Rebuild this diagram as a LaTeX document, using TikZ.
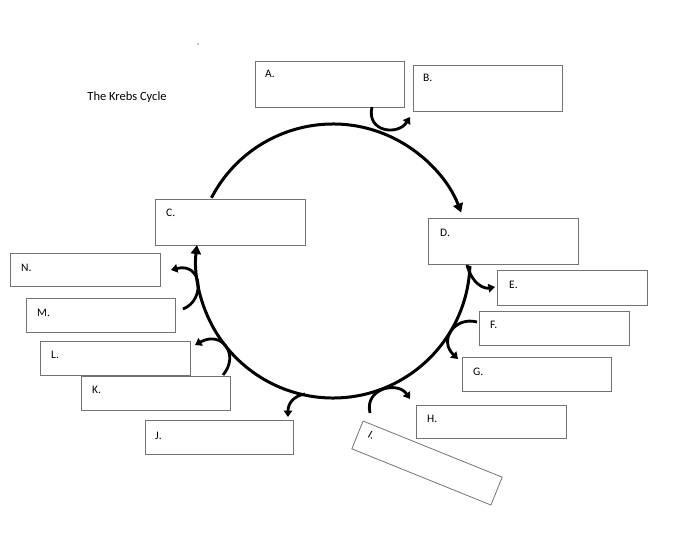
\documentclass[tikz,border=0pt]{standalone}
\usepackage{fontspec}
\setmainfont{Carlito}
\usetikzlibrary{arrows.meta,calc}
\begin{document}
\begin{tikzpicture}[x=1pt,y=-1pt,
  lbox/.style={draw=black!55,line width=0.8pt},
  lbl/.style={anchor=north west,font=\fontsize{11.5}{13}\selectfont,inner sep=0pt},
  cyc/.style={line width=3pt,-{Triangle[length=9pt,width=10pt]}},
  hook/.style={line width=2.8pt,-{Triangle[length=6.5pt,width=8.5pt]}}]
\useasboundingbox (0,0) rectangle (700,550);
\node[font=\fontsize{12.5}{14}\selectfont] (title) at (127,97) {The Krebs Cycle};
\fill (198,44) circle (0.6);
% boxes
\draw[lbox] (255,61) rectangle (404,107); \node[lbl] (A) at (265,70) {A.};
\draw[lbox] (413,65) rectangle (562,111); \node[lbl] (B) at (423,74) {B.};
\draw[lbox] (155,199) rectangle (305,245); \node[lbl] (C) at (166,209) {C.};
\draw[lbox] (428,218) rectangle (578,264); \node[lbl] (D) at (440,229) {D.};
\draw[lbox] (497,270) rectangle (647,305); \node[lbl] (E) at (509,281) {E.};
\draw[lbox] (479,311) rectangle (629,345); \node[lbl] (F) at (490,321) {F.};
\draw[lbox] (462,357) rectangle (611,391); \node[lbl] (G) at (473,368) {G.};
\draw[lbox] (416,405) rectangle (566,438); \node[lbl] (H) at (427,415) {H.};
\draw[lbox] (145,420) rectangle (293,454); \node[lbl] (J) at (155,432) {J.};
\draw[lbox] (81,376) rectangle (230,410); \node[lbl] (K) at (92,386) {K.};
\draw[lbox] (40,341) rectangle (190,375); \node[lbl] (L) at (51,351) {L.};
\draw[lbox] (26,298) rectangle (175,332); \node[lbl] (M) at (37,309) {M.};
\draw[lbox] (10,253) rectangle (160,286); \node[lbl] (N) at (21,264) {N.};
\begin{scope}[shift={(427,463)},rotate=-22]
\draw[lbox] (-75,-15) rectangle (75,15);
\node[lbl,rotate=-22] (I) at (-65,-9) {\itshape I.};
\end{scope}
% cycle
\coordinate (o) at (333,261);
\draw[cyc] ($(o)+(207.5:137)$) arc[start angle=207.5,end angle=339.3,radius=137];
\draw[cyc] ($(o)+(2:137)$) arc[start angle=2,end angle=186.7,radius=137];
% hooks
\draw[hook] (372,107) .. controls (366,132) and (398,136) .. (410,117);
\draw[hook] (467,265) .. controls (472,284) and (484,289) .. (495,287);
\draw[hook] (477,322) .. controls (455,316) and (438,340) .. (458,359);
\draw[hook] (370,413) .. controls (364,388) and (398,381) .. (410,399);
\draw[hook] (305,394) .. controls (293,396) and (288,404) .. (288,417);
\draw[hook] (223,375) .. controls (240,355) and (222,330) .. (195,345);
\draw[hook] (183,309) .. controls (206,300) and (202,262) .. (171,270);
\end{tikzpicture}
\end{document}
